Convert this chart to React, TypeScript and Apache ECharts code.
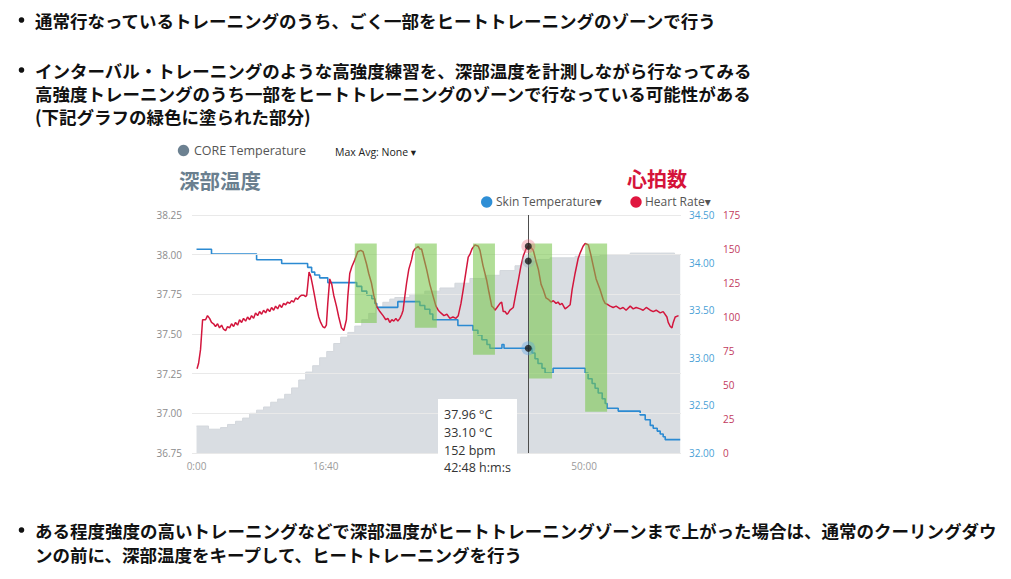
import React, { useEffect, useRef } from "react";
import * as echarts from "echarts";

// ---- data (time in seconds) ----
const timeLabels = [0, 1000, 3000];
const coreTicks = [36.75, 37.0, 37.25, 37.5, 37.75, 38.0, 38.25];

const coreTemp: [number, number][] = [
  [0, 36.92], [93, 36.9], [186, 36.91], [240, 36.93], [302, 36.95], [357, 36.97], [411, 37.0],
  [465, 37.02], [519, 37.04], [574, 37.07], [628, 37.09], [682, 37.12], [736, 37.16], [791, 37.21],
  [845, 37.26], [899, 37.3], [953, 37.35], [1008, 37.39], [1062, 37.44], [1116, 37.48], [1171, 37.51],
  [1225, 37.55], [1279, 37.59], [1333, 37.63], [1388, 37.67], [1442, 37.7], [1496, 37.72], [1535, 37.73],
  [1651, 37.75], [1767, 37.77], [1884, 37.79], [2000, 37.82], [2116, 37.85], [2233, 37.87], [2349, 37.9],
  [2465, 37.93], [2520, 37.96], [2640, 37.97], [2736, 37.98], [2930, 37.99], [3124, 38.0], [3357, 38.01],
  [3589, 38.01], [3700, 38.0], [3744, 38.0],
];

const skinTemp: [number, number][] = [
  [0, 34.14], [116, 34.09], [465, 34.03], [659, 33.99], [860, 33.95], [891, 33.9], [915, 33.87],
  [953, 33.84], [1016, 33.79], [1240, 33.75], [1279, 33.7], [1318, 33.66], [1357, 33.62], [1380, 33.57],
  [1395, 33.53], [1558, 33.59], [1729, 33.55], [1767, 33.51], [1806, 33.46], [1829, 33.4], [2023, 33.34],
  [2140, 33.29], [2178, 33.24], [2209, 33.19], [2248, 33.14], [2271, 33.1], [2364, 33.14], [2380, 33.1],
  [2597, 33.05], [2620, 32.99], [2643, 32.94], [2674, 32.89], [2698, 32.84], [2760, 32.89], [3008, 32.84],
  [3031, 32.78], [3062, 32.73], [3085, 32.68], [3109, 32.63], [3140, 32.57], [3163, 32.52], [3178, 32.47],
  [3264, 32.44], [3434, 32.4], [3473, 32.35], [3512, 32.29], [3535, 32.26], [3566, 32.23], [3589, 32.2],
  [3612, 32.17], [3628, 32.14], [3744, 32.14],
];

const heartRate: [number, number][] = [
  [4, 62], [16, 66], [31, 76], [47, 98], [70, 98], [85, 101], [101, 99], [116, 96], [132, 95], [147, 93],
  [163, 95], [178, 92], [194, 94], [209, 91], [225, 90], [240, 93], [256, 92], [271, 95], [287, 93], [302, 96],
  [318, 94], [333, 98], [349, 96], [364, 99], [380, 97], [395, 100], [411, 98], [426, 101], [442, 99], [457, 103],
  [473, 101], [488, 104], [504, 102], [519, 105], [535, 103], [550, 106], [566, 104], [581, 107], [597, 105], [612, 108],
  [628, 106], [643, 109], [659, 107], [674, 110], [690, 109], [705, 111], [721, 110], [736, 112], [752, 111], [767, 114],
  [783, 113], [798, 115], [814, 116], [829, 116], [845, 115], [853, 116], [871, 133], [884, 130], [899, 123], [915, 115],
  [930, 107], [946, 100], [961, 96], [977, 93], [992, 92], [1005, 94], [1016, 110], [1031, 128], [1047, 124], [1062, 116],
  [1083, 108], [1101, 100], [1122, 92], [1140, 90], [1160, 98], [1171, 115], [1186, 132], [1202, 137], [1225, 142], [1248, 148],
  [1271, 149], [1289, 148], [1316, 139], [1333, 132], [1354, 125], [1372, 116], [1393, 108], [1419, 104], [1444, 101], [1465, 98],
  [1481, 99], [1496, 96], [1512, 98], [1527, 97], [1543, 99], [1558, 97], [1574, 99], [1589, 102], [1599, 105], [1612, 115],
  [1626, 125], [1643, 135], [1664, 142], [1677, 148], [1690, 150], [1716, 152], [1729, 150], [1742, 150], [1760, 143], [1781, 135],
  [1806, 124], [1832, 115], [1853, 108], [1871, 105], [1891, 103], [1915, 101], [1938, 102], [1961, 99], [1985, 100], [2008, 99],
  [2026, 101], [2047, 110], [2064, 120], [2085, 133], [2103, 144], [2116, 146], [2132, 150], [2155, 153], [2181, 152], [2194, 149],
  [2217, 138], [2246, 127], [2264, 118], [2285, 108], [2297, 107], [2310, 105], [2326, 107], [2349, 110], [2362, 111], [2374, 104],
  [2388, 104], [2403, 102], [2413, 103], [2426, 105], [2452, 107], [2473, 118], [2491, 127], [2512, 138], [2530, 145], [2550, 150],
  [2568, 152], [2589, 151], [2607, 149], [2628, 141], [2646, 135], [2667, 124], [2684, 120], [2705, 114], [2723, 113], [2744, 111],
  [2762, 112], [2783, 110], [2798, 111], [2814, 109], [2829, 110], [2853, 106], [2868, 107], [2892, 109], [2907, 120], [2930, 132],
  [2954, 143], [2969, 147], [2992, 152], [3008, 154], [3033, 153], [3054, 145], [3072, 137], [3093, 128], [3124, 120], [3147, 113],
  [3163, 110], [3186, 109], [3202, 108], [3225, 107], [3248, 108], [3279, 106], [3302, 107], [3325, 105], [3357, 108], [3380, 106],
  [3403, 107], [3434, 106], [3457, 105], [3481, 107], [3512, 105], [3535, 104], [3558, 105], [3589, 103], [3612, 104], [3641, 100],
  [3651, 96], [3667, 93], [3680, 92], [3690, 96], [3705, 100], [3731, 101],
];

// heat-training zones (green): time range and core-temperature range
const zoneStart = [1225, 1690, 2140, 2574, 3008];
const zoneEnd = [1395, 1860, 2310, 2752, 3178];
const zoneTop = [38.07, 38.07, 38.07, 38.07, 38.07];
const zoneBottom = [37.57, 37.54, 37.37, 37.22, 37.01];

// hovered sample
const hoverTime = 2568;
const hoverCore = 37.96;
const hoverSkin = 33.1;
const hoverHR = 152;

const bullets1 = ["通常行なっているトレーニングのうち、ごく一部をヒートトレーニングのゾーンで行う"];
const bullets2 = [
  "インターバル・トレーニングのような高強度練習を、深部温度を計測しながら行なってみる",
  "高強度トレーニングのうち一部をヒートトレーニングのゾーンで行なっている可能性がある",
  "(下記グラフの緑色に塗られた部分)",
];
const bullets3 = [
  "ある程度強度の高いトレーニングなどで深部温度がヒートトレーニングゾーンまで上がった場合は、通常のクーリングダウ",
  "ンの前に、深部温度をキープして、ヒートトレーニングを行う",
];

const chartFont = "'Open Sans', 'DejaVu Sans', sans-serif";
const jpFont = "'Noto Sans CJK JP', sans-serif";

const fmtTime = (v: number) => `${Math.floor(v / 60)}:${String(Math.round(v % 60)).padStart(2, "0")}`;

function jpText(text: string, x: number, y: number) {
  return {
    type: "text",
    x,
    y,
    style: { text, fill: "#111", fontSize: 17.5, fontWeight: "bold", fontFamily: jpFont, align: "left", verticalAlign: "middle" },
  };
}
function bullet(y: number) {
  return { type: "circle", shape: { cx: 21.5, cy: y, r: 2.8 }, style: { fill: "#111" } };
}

function buildOption() {
  const graphic: any[] = [
    bullet(20),
    jpText(bullets1[0], 35, 20),
    bullet(70),
    jpText(bullets2[0], 35, 70),
    jpText(bullets2[1], 35, 93),
    jpText(bullets2[2], 35, 116),
    bullet(530),
    jpText(bullets3[0], 35, 530),
    jpText(bullets3[1], 35, 554),
    // legend / titles
    { type: "circle", shape: { cx: 183.5, cy: 150.5, r: 5.7 }, style: { fill: "#6c8191" } },
    { type: "text", x: 194, y: 150.5, style: { text: "CORE Temperature", fill: "#555", fontSize: 12.5, fontFamily: chartFont, verticalAlign: "middle" } },
    { type: "text", x: 335, y: 152, style: { text: "Max Avg: None ▾", fill: "#222", fontSize: 10.5, fontFamily: chartFont, verticalAlign: "middle" } },
    { type: "text", x: 179, y: 179.5, style: { text: "深部温度", fill: "#6a7f8f", fontSize: 20.5, fontWeight: "bold", fontFamily: jpFont, verticalAlign: "middle" } },
    { type: "text", x: 627, y: 178.5, style: { text: "心拍数", fill: "#d5133a", fontSize: 20, fontWeight: "bold", fontFamily: jpFont, verticalAlign: "middle" } },
    { type: "circle", shape: { cx: 486.7, cy: 202, r: 5.7 }, style: { fill: "#2f8fd6" } },
    { type: "text", x: 496, y: 201.5, style: { text: "Skin Temperature▾", fill: "#555", fontSize: 12, fontFamily: chartFont, verticalAlign: "middle" } },
    { type: "circle", shape: { cx: 636, cy: 202, r: 5.7 }, style: { fill: "#e0163f" } },
    { type: "text", x: 645, y: 201.5, style: { text: "Heart Rate▾", fill: "#555", fontSize: 12, fontFamily: chartFont, verticalAlign: "middle" } },
    // tooltip box
    { type: "rect", z: 100, shape: { x: 438, y: 399, width: 79, height: 80 }, style: { fill: "#fff" } },
    { type: "text", z: 101, x: 444, y: 414, style: { text: `${hoverCore.toFixed(2)} °C`, fill: "#333", fontSize: 12.5, fontFamily: chartFont, verticalAlign: "middle" } },
    { type: "text", z: 101, x: 444, y: 432, style: { text: `${hoverSkin.toFixed(2)} °C`, fill: "#333", fontSize: 12.5, fontFamily: chartFont, verticalAlign: "middle" } },
    { type: "text", z: 101, x: 444, y: 450, style: { text: `${hoverHR} bpm`, fill: "#333", fontSize: 12.5, fontFamily: chartFont, verticalAlign: "middle" } },
    { type: "text", z: 101, x: 444, y: 467.5, style: { text: `${fmtTime(hoverTime)} h:m:s`, fill: "#333", fontSize: 12.5, fontFamily: chartFont, verticalAlign: "middle" } },
  ];

  const hidden = { axisLine: { show: false }, axisTick: { show: false }, splitLine: { show: false } };

  return {
    animation: false,
    backgroundColor: "#ffffff",
    textStyle: { fontFamily: chartFont },
    grid: { left: 192, top: 215, width: 489, height: 238, containLabel: false, outerBoundsMode: "none" },
    xAxis: {
      type: "value",
      min: -35,
      max: 3750,
      ...hidden,
      axisLabel: { customValues: timeLabels, formatter: (v: number) => fmtTime(v), color: "#9a9a9a", fontSize: 10, margin: 8 },
    },
    yAxis: [
      {
        type: "value", min: 36.75, max: 38.25, interval: 0.25, position: "left", ...hidden,
        axisLabel: { formatter: (v: number) => v.toFixed(2), color: "#8c8c8c", fontSize: 10, margin: 10 },
      },
      {
        type: "value", min: 32, max: 34.5, interval: 0.5, position: "right", ...hidden,
        axisLabel: { formatter: (v: number) => v.toFixed(2), color: "#4a9fd6", fontSize: 10, margin: 8 },
      },
      {
        type: "value", min: 0, max: 175, interval: 25, position: "right", offset: 34, ...hidden,
        axisLabel: { color: "#c23a5e", fontSize: 10, margin: 8 },
      },
    ],
    series: [
      {
        name: "CORE Temperature", type: "line", yAxisIndex: 0, step: "end", symbol: "none", z: 1,
        data: coreTemp,
        lineStyle: { color: "#d3d7dc", width: 1 },
        areaStyle: { color: "#d9dde2", opacity: 1, origin: "start" },
      },
      {
        name: "grid", type: "line", yAxisIndex: 0, data: [], z: 2,
        markLine: {
          silent: true, symbol: ["none", "none"], label: { show: false },
          lineStyle: { color: "#e9e9e9", width: 1, type: "solid" },
          data: coreTicks.map((v) => ({ yAxis: v })),
        },
      },
      {
        name: "Skin Temperature", type: "line", yAxisIndex: 1, step: "end", symbol: "none", z: 4,
        data: skinTemp, lineStyle: { color: "#2b8ad2", width: 1.6 },
      },
      {
        name: "Heart Rate", type: "line", yAxisIndex: 2, symbol: "none", z: 5,
        data: heartRate, lineStyle: { color: "#d3163d", width: 1.5 },
      },
      {
        name: "zones", type: "custom", yAxisIndex: 0, z: 6, silent: true,
        data: zoneStart.map((s, i) => [s, zoneEnd[i], zoneTop[i], zoneBottom[i]]),
        encode: { x: [0, 1], y: [2, 3] },
        renderItem: (_params: any, api: any) => {
          const p1 = api.coord([api.value(0), api.value(2)]);
          const p2 = api.coord([api.value(1), api.value(3)]);
          return {
            type: "rect",
            shape: { x: p1[0], y: p1[1], width: p2[0] - p1[0], height: p2[1] - p1[1] },
            style: { fill: "rgba(120,198,76,0.58)" },
          };
        },
      },
      {
        name: "cursor", type: "line", yAxisIndex: 0, data: [], z: 7,
        markLine: {
          silent: true, symbol: ["none", "none"], label: { show: false },
          lineStyle: { color: "#4d4d4d", width: 1, type: "solid" },
          data: [{ xAxis: hoverTime }],
        },
      },
      {
        type: "scatter", yAxisIndex: 2, z: 8, silent: true,
        data: [
          { value: [hoverTime, hoverHR], symbolSize: 14, itemStyle: { color: "rgba(235,110,130,0.45)" } },
          { value: [hoverTime, hoverHR], symbolSize: 7, itemStyle: { color: "#1a1a1a" } },
        ],
      },
      {
        type: "scatter", yAxisIndex: 0, z: 8, silent: true,
        data: [
          { value: [hoverTime, hoverCore], symbolSize: 13, itemStyle: { color: "rgba(150,165,180,0.45)" } },
          { value: [hoverTime, hoverCore], symbolSize: 7, itemStyle: { color: "#1a1a1a" } },
        ],
      },
      {
        type: "scatter", yAxisIndex: 1, z: 8, silent: true,
        data: [
          { value: [hoverTime, hoverSkin], symbolSize: 14, itemStyle: { color: "rgba(80,160,230,0.45)" } },
          { value: [hoverTime, hoverSkin], symbolSize: 7, itemStyle: { color: "#1a1a1a" } },
        ],
      },
    ],
    graphic,
  };
}

export default function App() {
  const ref = useRef<HTMLDivElement>(null);
  useEffect(() => {
    if (!ref.current) return;
    const chart = echarts.init(ref.current, null, { renderer: "svg" });
    chart.setOption(buildOption() as any);
    return () => chart.dispose();
  }, []);
  return (
    <div
      ref={ref}
      style={{ position: "fixed", left: 0, top: 0, width: 1011, height: 579, background: "#fff" }}
    />
  );
}
